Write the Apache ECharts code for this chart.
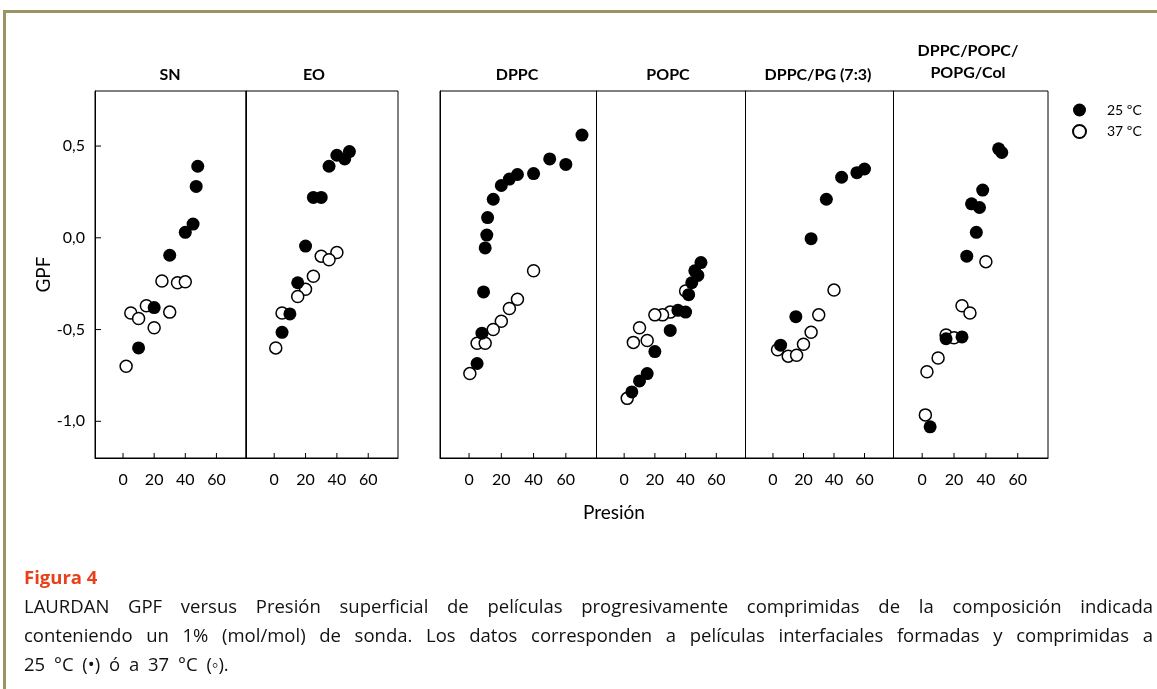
<!DOCTYPE html>
<html>
<head>
<meta charset="utf-8">
<script src="https://cdn.jsdelivr.net/npm/echarts@6/dist/echarts.min.js"></script>
<style>
  html, body { margin: 0; padding: 0; background: #fff; width: 1157px; height: 689px; overflow: hidden; }
  #frame { position: absolute; left: 3px; top: 10px; width: 1200px; height: 720px; box-sizing: border-box;
           border-left: 3px solid #9b9462; border-top: 3px solid #9b9462; }
  #chart { position: absolute; left: 0; top: 0; width: 1157px; height: 689px; }
  #caption { position: absolute; left: 24px; top: 562px; width: 1129px; font-family: "Open Sans", sans-serif;
             font-size: 18.5px; line-height: 29px; color: #111; }
  #caption .fig { color: #e8401a; font-weight: bold; }
  #caption .just { text-align: justify; text-align-last: justify; white-space: nowrap; }
  #caption .last { word-spacing: 4px; }
</style>
</head>
<body>
<div id="frame"></div>
<div id="chart"></div>
<div id="caption">
  <div class="fig">Figura 4</div>
  <div class="just">LAURDAN GPF versus Presión superficial de películas progresivamente comprimidas de la composición indicada</div>
  <div class="just">conteniendo un 1% (mol/mol) de sonda. Los datos corresponden a películas interfaciales formadas y comprimidas a</div>
  <div class="last">25 °C (•) ó a 37 °C (◦).</div>
</div>
<script>
// Panel titles and legend names
const panelTitles = ['SN', 'EO', 'DPPC', 'POPC', 'DPPC/PG (7:3)', 'DPPC/POPC/\nPOPG/Col'];
const seriesNames = ['25 ºC', '37 ºC'];
const xTicks = [0, 20, 40, 60];
const yTicks = [-1.0, -0.5, 0.0, 0.5];

// [presión, GPF] pairs, 25 ºC and 37 ºC, per film composition
const sn25 = [[48, 0.39], [47, 0.28], [45, 0.075], [40, 0.03], [30, -0.095], [20, -0.38], [10, -0.60]];
const sn37 = [[25, -0.235], [35, -0.245], [40, -0.24], [15, -0.37], [5, -0.41], [10, -0.44], [30, -0.405], [20, -0.49], [2, -0.70]];

const eo25 = [[48, 0.47], [40, 0.45], [45, 0.43], [35, 0.39], [25, 0.22], [30, 0.22], [20, -0.045], [15, -0.245], [10, -0.415], [5, -0.515]];
const eo37 = [[40, -0.08], [30, -0.10], [35, -0.12], [25, -0.21], [20, -0.28], [15, -0.32], [5, -0.41], [1, -0.60]];

const dppc25 = [[70, 0.56], [50, 0.43], [60, 0.40], [40, 0.35], [30, 0.345], [25, 0.32], [20, 0.285], [15, 0.21], [11.5, 0.11], [11, 0.015], [10, -0.055], [9, -0.295], [8, -0.52], [5, -0.685]];
const dppc37 = [[40, -0.18], [30, -0.335], [25, -0.385], [20, -0.455], [15, -0.50], [5, -0.575], [10, -0.575], [0.5, -0.74]];

const popc25 = [[50, -0.135], [46, -0.18], [48, -0.205], [44, -0.245], [42, -0.31], [40, -0.405], [35, -0.395], [30, -0.505], [20, -0.62], [15, -0.74], [10, -0.78], [5, -0.84]];
const popc37 = [[40, -0.29], [30, -0.405], [25, -0.42], [20, -0.42], [10, -0.49], [15, -0.56], [6, -0.57], [2, -0.875]];

const dppcPg25 = [[60, 0.375], [55, 0.355], [45, 0.33], [35, 0.21], [25, -0.005], [15, -0.43], [5, -0.585]];
const dppcPg37 = [[40, -0.285], [30, -0.42], [25, -0.515], [20, -0.58], [3, -0.61], [10, -0.645], [15.5, -0.64]];

const mix25 = [[48, 0.485], [50, 0.465], [38, 0.26], [31, 0.185], [36, 0.165], [34, 0.03], [28, -0.10], [15, -0.55], [25, -0.54], [5, -1.03]];
const mix37 = [[40, -0.13], [25, -0.37], [30, -0.41], [15, -0.53], [20, -0.545], [10, -0.655], [3, -0.73], [2, -0.965]];

const panelData = [
  [sn25, sn37], [eo25, eo37], [dppc25, dppc37],
  [popc25, popc37], [dppcPg25, dppcPg37], [mix25, mix37]
];

// Axis ranges shared by every panel
const X_MIN = -18, X_MAX = 79, Y_MIN = -1.2, Y_MAX = 0.8;

// Layout of the six framed panels (left edge, width) and title anchors
const panelBoxes = [[95, 151], [246, 152], [440, 156.5], [596.5, 149], [745.5, 148], [893.5, 154.5]];
const titleAnchors = [[170, 75], [314, 75], [517, 75], [668, 75], [818, 75], [968, 62]];
const TOP = 91, HEIGHT = 367;
const FONT = 'Lato, "Noto Sans", sans-serif';

const grid = [], xAxis = [], yAxis = [], series = [], graphic = [];

panelBoxes.forEach(([left, width], i) => {
  const first = i === 0;
  grid.push({ left, top: TOP, width, height: HEIGHT, show: true, borderColor: '#000', borderWidth: 1 });
  xAxis.push({
    type: 'value', gridIndex: i, min: X_MIN, max: X_MAX,
    axisLine: { show: true, onZero: false, lineStyle: { color: '#000', width: 1 } },
    splitLine: { show: false },
    axisTick: { show: false },
    axisLabel: { customValues: xTicks, color: '#000', fontSize: 16, fontFamily: FONT, margin: 14 }
  });
  yAxis.push({
    type: 'value', gridIndex: i, min: Y_MIN, max: Y_MAX,
    axisLine: { show: true, onZero: false, lineStyle: { color: '#000', width: 1 } },
    splitLine: { show: false },
    name: first ? 'GPF' : '', nameLocation: 'middle', nameGap: 42, nameRotate: 90,
    nameTextStyle: { color: '#000', fontSize: 19, fontFamily: FONT },
    axisTick: { show: false },
    axisLabel: {
      show: first, customValues: yTicks, color: '#000', fontSize: 16, fontFamily: FONT, margin: 10,
      formatter: v => v.toFixed(1).replace('.', ',')
    }
  });

  // inward tick marks on the bottom axis, placed through the panel's own scales
  series.push({
    name: 'marcasX', type: 'scatter', xAxisIndex: i, yAxisIndex: i, silent: true, clip: false, z: 1,
    data: xTicks.map(v => [v, Y_MIN]),
    symbol: 'rect', symbolSize: [1, 5], symbolOffset: [0, -2.5],
    itemStyle: { color: '#000', opacity: 1 }, emphasis: { disabled: true }, tooltip: { show: false }
  });
  if (first) {
    series.push({
      name: 'marcasY', type: 'scatter', xAxisIndex: i, yAxisIndex: i, silent: true, clip: false, z: 1,
      data: yTicks.map(v => [X_MIN, v]),
      symbol: 'rect', symbolSize: [6, 1], symbolOffset: [3, 0],
      itemStyle: { color: '#000', opacity: 1 }, emphasis: { disabled: true }, tooltip: { show: false }
    });
  }

  const [hot, warm] = panelData[i];
  series.push({
    name: seriesNames[0], type: 'scatter', xAxisIndex: i, yAxisIndex: i, data: hot, z: 3,
    symbol: 'circle', symbolSize: 13, itemStyle: { color: '#000', opacity: 1 }, emphasis: { disabled: true }
  });
  series.push({
    name: seriesNames[1], type: 'scatter', xAxisIndex: i, yAxisIndex: i, data: warm, z: 2,
    symbol: 'circle', symbolSize: 12,
    itemStyle: { color: '#fff', borderColor: '#000', borderWidth: 1.5, opacity: 1 }, emphasis: { disabled: true }
  });
  graphic.push({
    type: 'text', x: titleAnchors[i][0], y: titleAnchors[i][1],
    style: { text: panelTitles[i], fill: '#000', fontSize: 16, fontWeight: 'bold', fontFamily: FONT,
             align: 'center', verticalAlign: 'middle', lineHeight: 22 }
  });
});

graphic.push({
  type: 'text', x: 614, y: 513,
  style: { text: 'Presión', fill: '#000', fontSize: 19, fontFamily: FONT, align: 'center', verticalAlign: 'middle' }
});

const chart = echarts.init(document.getElementById('chart'), null, { renderer: 'canvas' });
chart.setOption({
  animation: false,
  grid, xAxis, yAxis, series, graphic,
  legend: {
    data: seriesNames, orient: 'vertical', left: 1072, top: 103, padding: 0,
    itemWidth: 13, itemHeight: 13, itemGap: 7, selectedMode: false,
    textStyle: { color: '#000', fontSize: 14, fontFamily: FONT, padding: [0, 0, 0, 16] }
  }
});
</script>
</body>
</html>
